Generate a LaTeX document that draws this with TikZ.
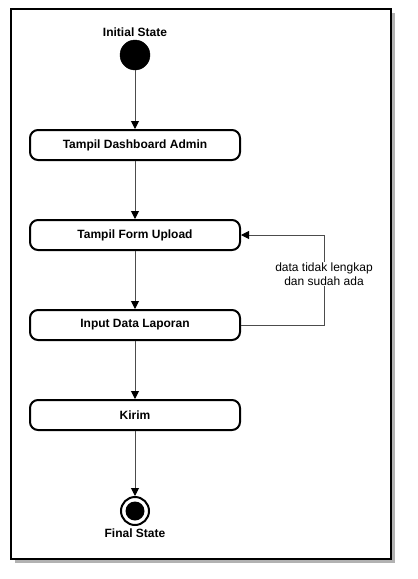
\documentclass[tikz,border=0pt]{standalone}
\usepackage{fontspec}
\setmainfont{Liberation Sans}
\usetikzlibrary{arrows.meta}
\tikzset{
  every node/.style={font=\fontsize{12}{14}\selectfont},
  actbox/.style={draw, line width=2pt, rounded corners=8pt, minimum width=210pt, minimum height=30pt, inner sep=0pt, font=\fontsize{12}{14}\selectfont\bfseries},
  flow/.style={draw=black!70, line width=1pt, -{Triangle[length=8pt,width=8pt,color=black]}},
  lbl/.style={font=\fontsize{12}{14}\selectfont\bfseries, inner sep=0pt},
}
\begin{document}
\begin{tikzpicture}[x=1pt,y=-1pt]
\useasboundingbox (0,0) rectangle (418,579);
% frame with shadow
\fill[black!30] (15,13) rectangle (395,563);
\draw[line width=2pt, fill=white] (11,9) rectangle (391,559);
% initial
\node[circle, fill=black, draw=black, minimum size=30pt, inner sep=0pt] (init) at (135,55) {};
\node[lbl] (initl) at (135,32) {Initial State};
% boxes
\node[actbox] (b1) at (135,145) {Tampil Dashboard Admin};
\node[actbox] (b2) at (135,235) {Tampil Form Upload};
\node[actbox] (b3) at (135,325) {Input Data Laporan};
\node[actbox] (b4) at (135,415) {Kirim};
% final
\node[circle, draw=black, line width=2pt, minimum size=28pt, inner sep=0pt] (fin) at (135,511) {};
\node[circle, fill=black, minimum size=19pt, inner sep=0pt] (finin) at (135,511) {};
\node[lbl] (finl) at (135,533) {Final State};
% flows
\draw[flow] (init) -- (b1);
\draw[flow] (b1) -- (b2);
\draw[flow] (b2) -- (b3);
\draw[flow] (b3) -- (b4);
\draw[flow] (b4) -- (fin);
\coordinate (c1) at (324,325);
\coordinate (c2) at (324,235);
\draw[flow] (b3.east) -- (c1) -- (c2) -- (b2.east);
\node[fill=white, align=center, inner sep=1pt] (loopl) at (324,274) {data tidak lengkap\\dan sudah ada};
\end{tikzpicture}
\end{document}
